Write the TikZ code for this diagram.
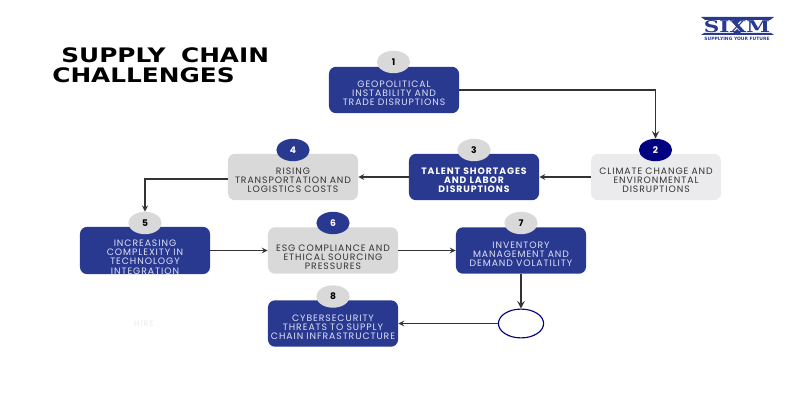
\documentclass[tikz,border=0pt]{standalone}
\usepackage{fontspec}
\setmainfont{Poppins}[LetterSpace=10]
\newfontfamily\badgefont{Poppins}
\newfontfamily\titlefont{DejaVu Sans}
\newfontfamily\logofont{DejaVu Serif}
\usetikzlibrary{shapes.geometric}
\definecolor{boxblue}{HTML}{2A3990}
\definecolor{boxgray}{HTML}{D9D9D9}
\definecolor{boxpale}{HTML}{EBEBED}
\definecolor{textpale}{HTML}{DDE2F5}
\definecolor{navy}{HTML}{000080}
\definecolor{linegray}{HTML}{333333}

\begin{document}
\begin{tikzpicture}
[
x=0.025cm, y=-0.025cm,
every node/.style={inner sep=0pt},
toptext/.style={execute at begin node={\rule{0pt}{#1}}},
box/.style={rectangle, rounded corners=5pt, minimum width=3.25cm, minimum height=1.16cm, text width=3.25cm, align=center,
	font=\fontsize{6.6}{6.5}\selectfont, toptext=9.5pt},
darkbox/.style={box, fill=boxblue, text=textpale},
graybox/.style={box, fill=boxgray, text=black!80},
palebox/.style={box, fill=boxpale, text=black!80},
badge/.style={ellipse, minimum width=0.83cm, minimum height=0.56cm, font=\badgefont\bfseries\fontsize{6.5}{7}\selectfont},
graybadge/.style={badge, fill=boxgray, text=black},
bluebadge/.style={badge, fill=boxblue, text=white},
link/.style={->, >=stealth, linegray, line width=0.9pt},
heavylink/.style={link, line width=1.3pt}
]
\useasboundingbox (0,0) rectangle (800,400);

\node[anchor=north west, align=left, xscale=1.24, font=\titlefont\bfseries\fontsize{14.2}{14.4}\selectfont] (title) at (52,47) {\hspace*{5.2pt}SUPPLY\hspace{4pt} CHAIN\\CHALLENGES};

% logo
\node[font=\logofont\bfseries\fontsize{11.5}{12}\selectfont, text=boxblue, xscale=1.33] (logo) at (737,26.5) {SIXM};
\node[font=\titlefont\bfseries\fontsize{3.2}{3.5}\selectfont, text=boxblue] (slogan) at (737,38.5) {SUPPLYING YOUR FUTURE};
\coordinate (barA) at (701,17);
\coordinate (barB) at (774,17);
\coordinate (barC) at (701,35);
\coordinate (barD) at (774,35);
\fill[boxblue] (barA) -- (barB) -- ++(-4,3) -- (741,20) -- (737,24) -- (733,20) -- ++(-28,0) -- cycle;
\fill[boxblue] (barC) -- (barD) -- ++(-3,-2) -- (741,33) -- (737,29) -- (733,33) -- ++(-29,0) -- cycle;

% boxes
\node[darkbox] (box1) at (394,90) {GEOPOLITICAL\\INSTABILITY AND\\TRADE DISRUPTIONS};
\node[palebox] (box2) at (656,177) {CLIMATE CHANGE AND\\ENVIRONMENTAL\\DISRUPTIONS};
\node[darkbox, font=\bfseries\fontsize{6.6}{6.5}\selectfont, text=white] (box3) at (474,177) {TALENT SHORTAGES\\AND LABOR\\DISRUPTIONS};
\node[graybox] (box4) at (293,177) {RISING\\TRANSPORTATION AND\\LOGISTICS COSTS};
\node[darkbox, toptext=14pt] (box5) at (145,250.5) {INCREASING\\COMPLEXITY IN\\TECHNOLOGY\\INTEGRATION};
\node[graybox, toptext=14pt] (box6) at (333,250.5) {ESG COMPLIANCE AND\\ETHICAL SOURCING\\PRESSURES};
\node[darkbox] (box7) at (521,250.5) {INVENTORY\\MANAGEMENT AND\\DEMAND VOLATILITY};
\node[darkbox] (box8) at (333,323.5) {CYBERSECURITY\\THREATS TO SUPPLY\\CHAIN INFRASTRUCTURE};

% numbers
\node[graybadge] (num1) at (393.5,62) {1};
\node[badge, fill=navy, text=white] (num2) at (655.5,150) {2};
\node[graybadge] (num3) at (474,150) {3};
\node[bluebadge] (num4) at (293,150) {4};
\node[graybadge] (num5) at (145,223) {5};
\node[bluebadge] (num6) at (333,223) {6};
\node[graybadge] (num7) at (521,223) {7};
\node[graybadge] (num8) at (333,296.5) {8};

\node[ellipse, draw=navy, fill=white, line width=0.8pt, minimum width=1.13cm, minimum height=0.72cm] (blank) at (521,323.5) {};
\node[text=black!8, font=\fontsize{5.9}{6.6}\selectfont] (hire) at (144,324) {HIRE};

\draw[heavylink] (box1) -| (num2);
\draw[link] (box2) -- (box3);
\draw[link] (box3) -- (box4);
\draw[link] ([yshift=-1.5pt]box4.west) -| (num5);
\draw[link] (box5) -- (box6);
\draw[link] (box6) -- (box7);
\draw[heavylink] (box7) -- (blank);
\draw[link] (blank) -- (box8);
\end{tikzpicture}
\end{document}
